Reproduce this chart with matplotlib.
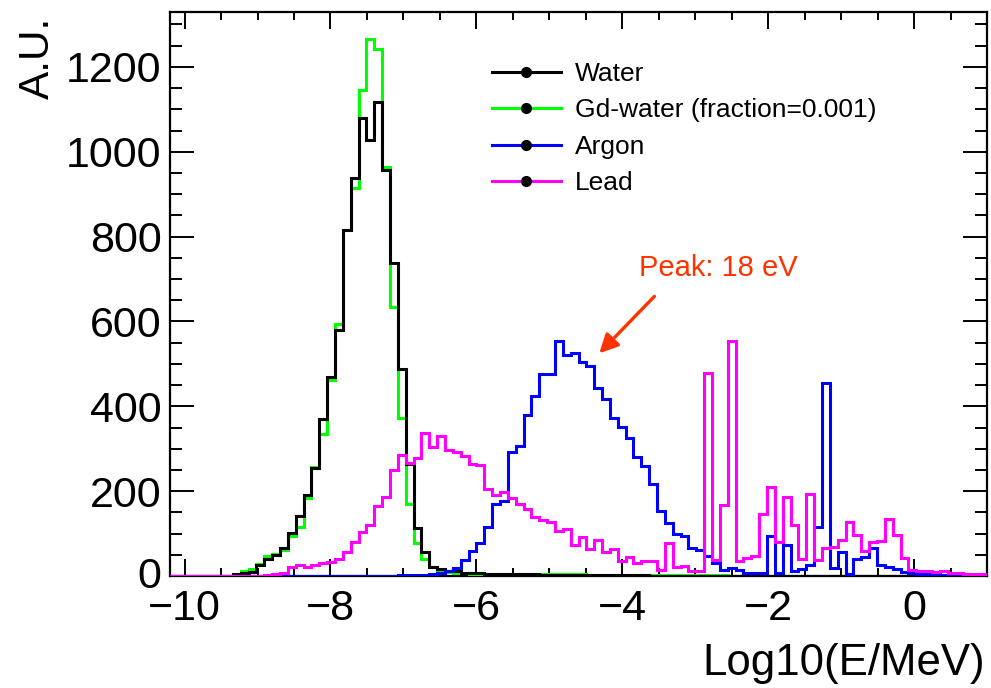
import numpy as np
import matplotlib
matplotlib.use("Agg")
import matplotlib.pyplot as plt
from matplotlib.ticker import MultipleLocator
from matplotlib.lines import Line2D
from matplotlib.transforms import ScaledTranslation

plt.rcParams['font.family'] = ['Liberation Sans', 'DejaVu Sans']

# ---- data: 104 bins of log10(E/MeV) from -10.2 to 1.0 ----
x_min, x_max, n_bins = -10.2, 1.0, 104

water = [0, 0, 0, 0, 0, 0, 0, 0, 5, 8,
         10, 26, 40, 50, 66, 102, 142, 190, 255, 370,
         468, 579, 816, 937, 1079, 1028, 1118, 958, 738, 488,
         264, 114, 56, 22, 16, 11, 11, 7, 6, 6,
         5, 5, 5, 4, 4, 4, 4, 3, 3, 3,
         3, 3, 3, 2, 2, 2, 2, 2, 2, 2,
         2, 1, 1, 1, 1, 1, 1, 1, 1, 1,
         1, 0, 0, 0, 0, 0, 0, 0, 0, 0,
         0, 0, 0, 0, 0, 0, 0, 0, 0, 0,
         0, 0, 0, 0, 0, 0, 0, 0, 0, 0,
         0, 0, 0, 0]

gd_water = [0, 0, 0, 0, 0, 0, 0, 0, 4, 12,
            16, 28, 48, 52, 62, 94, 115, 185, 258, 334,
            461, 595, 815, 914, 1146, 1266, 1243, 965, 633, 372,
            170, 77, 39, 22, 14, 10, 8, 6, 5, 5,
            4, 4, 4, 4, 4, 4, 4, 4, 4, 4,
            4, 4, 4, 3, 3, 3, 3, 3, 3, 3,
            3, 2, 2, 2, 2, 2, 2, 2, 2, 2,
            2, 0, 0, 0, 0, 0, 0, 0, 0, 0,
            0, 0, 0, 0, 0, 0, 0, 0, 0, 0,
            0, 0, 0, 0, 0, 0, 0, 0, 0, 0,
            0, 0, 0, 0]

argon = [0, 0, 0, 0, 0, 0, 0, 0, 0, 0,
         0, 0, 0, 0, 0, 0, 0, 0, 0, 0,
         0, 1, 1, 1, 1, 1, 1, 1, 1, 2,
         2, 2, 3, 4, 8, 12, 20, 38, 60, 77,
         116, 169, 177, 293, 306, 379, 424, 475, 475, 555,
         522, 526, 504, 494, 444, 416, 373, 351, 325, 280,
         259, 216, 153, 126, 98, 94, 65, 61, 48, 31,
         14, 18, 13, 6, 8, 8, 94, 8, 73, 12,
         16, 25, 116, 455, 18, 57, 4, 39, 45, 65,
         25, 21, 16, 10, 6, 5, 4, 3, 2, 1,
         0, 0, 0, 0]

lead = [1, 1, 1, 1, 1, 1, 1, 1, 1, 1,
        1, 1, 3, 4, 7, 22, 26, 22, 26, 30,
        34, 41, 56, 80, 104, 121, 165, 186, 249, 285,
        267, 278, 336, 305, 330, 298, 292, 284, 264, 262,
        206, 191, 197, 185, 169, 157, 140, 131, 128, 106,
        111, 74, 92, 63, 86, 57, 63, 36, 45, 31,
        35, 35, 15, 78, 21, 24, 11, 12, 478, 38,
        168, 554, 36, 43, 46, 147, 210, 79, 187, 121,
        40, 193, 38, 67, 69, 85, 127, 97, 60, 80,
        82, 134, 97, 43, 15, 12, 11, 9, 11, 6,
        6, 5, 5, 5]

labels = ["Water", "Gd-water (fraction=0.001)", "Argon", "Lead"]
colors = ["#000000", "#00ff00", "#0000ff", "#ff00ff"]
series = [water, gd_water, argon, lead]

xticks = [-10, -8, -6, -4, -2, 0]
yticks = [0, 200, 400, 600, 800, 1000, 1200]

edges = np.linspace(x_min, x_max, n_bins + 1)

# ---- figure ----
W, H = 991, 688
fig = plt.figure(figsize=(W / 100, H / 100), dpi=100)
ax = fig.add_axes([170 / W, 1 - 576 / H, (987 - 170) / W, (576 - 12) / H])

draw_order = [1, 0, 2, 3]
for n, idx in enumerate(draw_order):
    ax.stairs(series[idx], edges, baseline=None, color=colors[idx],
              linewidth=2.2, zorder=3 + n * 0.1)

ymax = max(max(s) for s in series) * 1.05
ax.set_xlim(x_min, x_max)
ax.set_ylim(0, ymax)

ax.set_xticks(xticks)
ax.set_xticklabels([f"\u2212{abs(t)}" if t < 0 else str(t) for t in xticks])
ax.set_yticks(yticks)
ax.xaxis.set_minor_locator(MultipleLocator(0.5))
ax.yaxis.set_minor_locator(MultipleLocator(50))
ax.tick_params(which='both', direction='in', top=True, right=True,
               width=1.4, labelsize=31, color='black')
ax.tick_params(axis='x', which='major', length=12, pad=9)
ax.tick_params(axis='x', which='minor', length=6)
ax.tick_params(axis='y', which='major', length=17.5, pad=6)
ax.tick_params(axis='y', which='minor', length=8.8)
for sp in ax.spines.values():
    sp.set_linewidth(1.6)

# lift the y "0" label a few pixels so it does not collide with "-10"
zero_lbl = ax.get_yticklabels()[0]
zero_lbl.set_transform(zero_lbl.get_transform() +
                       ScaledTranslation(0, 3 / 100, fig.dpi_scale_trans))

fig.text(985 / W, 1 - 664 / H, "Log10(E/MeV)", ha='right', va='center',
         fontsize=31.5)
fig.text(38 / W, 1 - 17 / H, "A.U.", ha='center', va='top', rotation=90,
         fontsize=30.5)

# legend
handles = [Line2D([0], [0], color=c, lw=2.2, marker='o', markersize=7,
                  markerfacecolor='black', markeredgecolor='black')
           for c in colors]
ax.legend(handles, labels, loc='upper left',
          bbox_to_anchor=(492 / W, 1 - 62 / H), bbox_transform=fig.transFigure,
          frameon=False, fontsize=19, handlelength=2.6, handletextpad=0.55,
          labelspacing=0.47, borderpad=0, borderaxespad=0)

# annotation
peak_color = "#ff3300"
ax.annotate("", xy=(-4.315, 525), xytext=(-3.56, 659),
            arrowprops=dict(arrowstyle='-|>', color=peak_color, lw=2.4,
                            mutation_scale=28, shrinkA=0, shrinkB=0))
ax.text(-3.77, 725, "Peak: 18 eV", color=peak_color, fontsize=21,
        ha='left', va='center')

fig.savefig("out.png", dpi=100)
